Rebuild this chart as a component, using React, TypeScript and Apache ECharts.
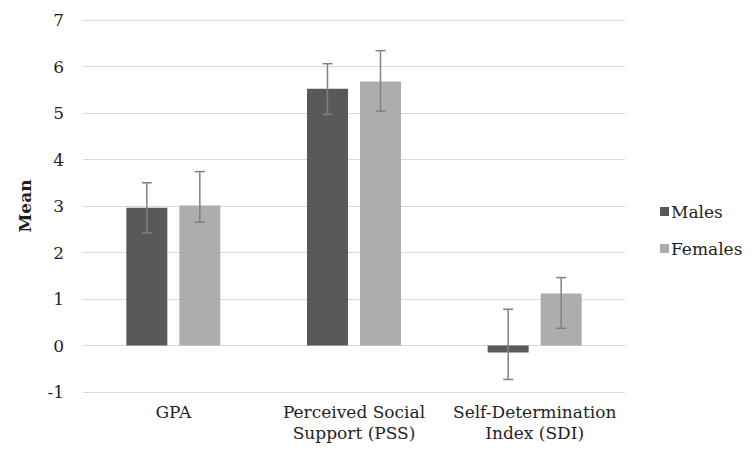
import React, { useEffect, useRef } from "react";
import * as echarts from "echarts";

const categories = ["GPA", "Perceived Social\nSupport (PSS)", "Self-Determination\nIndex (SDI)"];
const yTicks = [-1, 0, 1, 2, 3, 4, 5, 6, 7];

const malesMean = [2.96, 5.52, -0.15];
const malesLow = [2.42, 4.97, -0.73];
const malesHigh = [3.5, 6.06, 0.78];

const femalesMean = [3.01, 5.68, 1.12];
const femalesLow = [2.65, 5.04, 0.37];
const femalesHigh = [3.74, 6.34, 1.46];

const MALE_COLOR = "#595959";
const FEMALE_COLOR = "#adadad";
const ERR_COLOR = "#808080";
const FONT = "DejaVu Serif";
const TEXT_COLOR = "#1f1f1f";

const BAR_W = 41;
const BAR_GAP = 12;

function errorSeries(name: string, low: number[], high: number[], offset: number) {
  const data = low.map((l, i) => [i, l, high[i]]);
  return {
    type: "custom",
    name: name + " err",
    z: 10,
    silent: true,
    data,
    encode: { x: 0, y: [1, 2] },
    renderItem: (_params: any, api: any) => {
      const idx = api.value(0);
      const lo = api.coord([idx, api.value(1)]);
      const hi = api.coord([idx, api.value(2)]);
      const x = lo[0] + offset;
      const cap = 5;
      const style = { stroke: ERR_COLOR, lineWidth: 1.5 };
      return {
        type: "group",
        children: [
          { type: "line", shape: { x1: x, y1: lo[1], x2: x, y2: hi[1] }, style },
          { type: "line", shape: { x1: x - cap, y1: hi[1], x2: x + cap, y2: hi[1] }, style },
          { type: "line", shape: { x1: x - cap, y1: lo[1], x2: x + cap, y2: lo[1] }, style },
        ],
      };
    },
  };
}

export default function App() {
  const ref = useRef<HTMLDivElement>(null);
  useEffect(() => {
    if (!ref.current) return;
    const chart = echarts.init(ref.current, undefined, { renderer: "svg" });
    const off = (BAR_W + BAR_GAP) / 2;
    chart.setOption({
      animation: false,
      backgroundColor: "#ffffff",
      textStyle: { fontFamily: FONT },
      grid: { left: 68, right: 127, top: 12, bottom: 64 },
      legend: {
        orient: "vertical",
        left: 652,
        top: 195,
        padding: 0,
        itemWidth: 9,
        itemHeight: 9,
        itemGap: 20,
        icon: "rect",
        data: ["Males", "Females"],
        textStyle: { fontFamily: FONT, fontSize: 17, color: TEXT_COLOR, padding: [0, 0, 0, -3] },
      },
      xAxis: {
        type: "category",
        data: categories,
        axisTick: { show: false },
        axisLine: { lineStyle: { color: "#d9d9d9", width: 1 } },
        axisLabel: {
          interval: 0,
          fontFamily: FONT,
          fontSize: 17,
          color: TEXT_COLOR,
          margin: 9,
          lineHeight: 21,
        },
      },
      yAxis: {
        type: "value",
        min: yTicks[0],
        max: yTicks[yTicks.length - 1],
        interval: 1,
        name: "Mean",
        nameLocation: "middle",
        nameGap: 50,
        nameRotate: 90,
        nameTextStyle: { fontFamily: FONT, fontSize: 17, fontWeight: "bold", color: TEXT_COLOR },
        axisLine: { show: false },
        axisTick: { show: false },
        splitLine: { lineStyle: { color: "#d9d9d9", width: 1 } },
        axisLabel: { fontFamily: FONT, fontSize: 17, color: TEXT_COLOR, margin: 19 },
      },
      series: [
        {
          type: "bar",
          name: "Males",
          data: malesMean,
          barWidth: BAR_W,
          barGap: ((BAR_GAP / BAR_W) * 100).toFixed(1) + "%",
          itemStyle: { color: MALE_COLOR },
        },
        {
          type: "bar",
          name: "Females",
          data: femalesMean,
          barWidth: BAR_W,
          itemStyle: { color: FEMALE_COLOR },
        },
        errorSeries("Males", malesLow, malesHigh, -off),
        errorSeries("Females", femalesLow, femalesHigh, off),
      ],
    });
    return () => chart.dispose();
  }, []);
  return <div ref={ref} style={{ width: 744, height: 448 }} />;
}
